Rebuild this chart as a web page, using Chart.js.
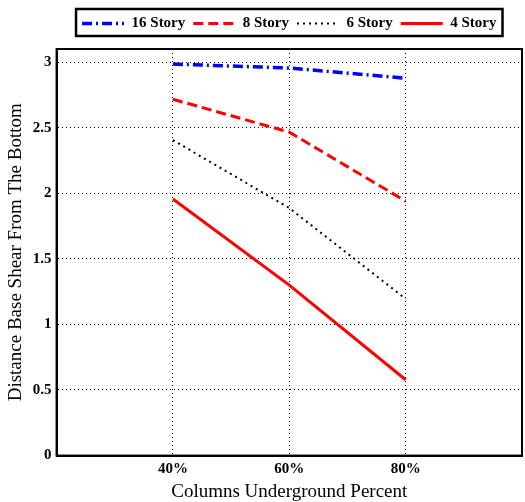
<!DOCTYPE html>
<html>
<head>
<meta charset="utf-8">
<script src="https://cdn.jsdelivr.net/npm/chart.js@4/dist/chart.umd.min.js"></script>
<style>
  body { margin: 0; background: #fff; }
  #wrap { width: 525px; height: 502px; }
</style>
</head>
<body>
<div id="wrap"><canvas id="chart" width="525" height="502"></canvas></div>
<script>
// values
const percents = [40, 60, 80]
const story16 = [2.985, 2.955, 2.877]
const story8 = [2.717, 2.466, 1.94]
const story6 = [2.405, 1.887, 1.195]
const story4 = [1.956, 1.30, 0.578]
const xTicks = [40, 60, 80]
const yTicks = [0, 0.5, 1, 1.5, 2, 2.5, 3]

const serif = "'Liberation Serif', 'Times New Roman', serif"

const toPoints = arr => arr.map((v, i) => ({ x: percents[i], y: v }))

// frame around the plot, a box around the legend, some room under the legend
const framePlugin = {
    id: 'frame',
    afterInit(chart) {
        const lg = chart.legend
        if (!lg) return
        const fit = lg.fit
        lg.fit = function () {
            fit.call(this)
            this.height += 8
        }
    },
    afterDraw(chart) {
        const ctx = chart.ctx
        const a = chart.chartArea
        ctx.save()
        ctx.strokeStyle = '#000'
        ctx.lineWidth = 2
        ctx.setLineDash([])
        ctx.strokeRect(a.left, a.top, a.right - a.left, a.bottom - a.top)

        const boxes = chart.legend.legendHitBoxes
        if (boxes && boxes.length) {
            const l = Math.min(...boxes.map(b => b.left)) - 6
            const r = Math.max(...boxes.map(b => b.left + b.width)) + 6
            const t = boxes[0].top - 7
            const h = boxes[0].height + 12
            ctx.lineWidth = 2.5
            ctx.strokeRect(l, t, r - l, h)
        }
        ctx.restore()
    }
}

const datasets = [
    { label: '16 Story', data: toPoints(story16), borderColor: '#0000ff', borderWidth: 3.5, borderDash: [10, 4, 2, 4] },
    { label: '8 Story', data: toPoints(story8), borderColor: '#ff0000', borderWidth: 3, borderDash: [10, 5] },
    { label: '6 Story', data: toPoints(story6), borderColor: '#000000', borderWidth: 2, borderDash: [2, 4] },
    { label: '4 Story', data: toPoints(story4), borderColor: '#ff0000', borderWidth: 3, borderDash: [] }
]
datasets.forEach(d => {
    d.pointRadius = 0
    d.fill = false
    d.tension = 0
    d.backgroundColor = d.borderColor
    d.pointStyle = 'line'
})

new Chart(document.getElementById('chart'), {
    type: 'line',
    data: { datasets: datasets },
    options: {
        responsive: false,
        animation: false,
        layout: { padding: { left: 5, right: 3, top: 8, bottom: 0 } },
        plugins: {
            tooltip: { enabled: false },
            legend: {
                position: 'top',
                fullSize: false,
                labels: {
                    usePointStyle: true,
                    pointStyleWidth: 42,
                    color: '#000',
                    font: { family: serif, size: 15, weight: 'bold' },
                    padding: 8,
                    generateLabels: chart => {
                        const items = Chart.defaults.plugins.legend.labels.generateLabels(chart)
                        items.forEach(it => {
                            const ds = chart.data.datasets[it.datasetIndex]
                            it.lineDash = ds.borderDash
                            it.lineWidth = ds.borderWidth
                            it.strokeStyle = ds.borderColor
                        })
                        return items
                    }
                }
            }
        },
        scales: {
            x: {
                type: 'linear',
                min: 20,
                max: 100,
                afterBuildTicks: s => { s.ticks = xTicks.map(v => ({ value: v })) },
                ticks: {
                    color: '#000',
                    font: { family: serif, size: 15, weight: 'bold', lineHeight: 1.1 },
                    callback: v => v + '%',
                    padding: 5
                },
                grid: { color: '#000', lineWidth: 1, drawTicks: false },
                border: { display: true, color: '#000', width: 2, dash: [1, 3] },
                title: {
                    display: true,
                    text: 'Columns Underground Percent',
                    color: '#000',
                    font: { family: serif, size: 19, lineHeight: 1.05 },
                    padding: { top: 0, bottom: 0 }
                }
            },
            y: {
                min: 0,
                max: 3.1,
                afterBuildTicks: s => { s.ticks = yTicks.map(v => ({ value: v })) },
                ticks: {
                    color: '#000',
                    font: { family: serif, size: 15, weight: 'bold' },
                    callback: v => String(v),
                    padding: 5
                },
                grid: { color: '#000', lineWidth: 1, drawTicks: false },
                border: { display: true, color: '#000', width: 2, dash: [1, 3] },
                title: {
                    display: true,
                    text: 'Distance Base Shear From The Bottom',
                    color: '#000',
                    font: { family: serif, size: 19 },
                    padding: { top: 0, bottom: 0 }
                }
            }
        }
    },
    plugins: [framePlugin]
})
</script>
</body>
</html>
